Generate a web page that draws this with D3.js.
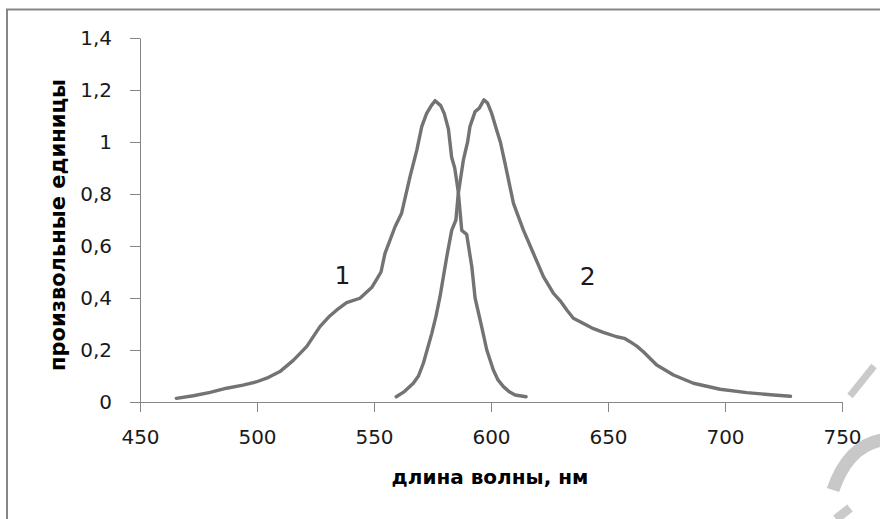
<!DOCTYPE html>
<html>
<head>
<meta charset="utf-8">
<script src="https://cdn.jsdelivr.net/npm/d3@7"></script>
<style>
  body { margin: 0; background: #fff; }
  svg { display: block; }
</style>
</head>
<body>
<div id="chart"></div>
<script>
// spectrum 1 (wavelength, nm / arbitrary units)
let wl1 = [465.5, 472.8, 480, 487, 494, 499.9, 505, 509.8, 515.5, 521.2, 526.9, 531, 534.1, 538.3,
  544, 549, 551, 553, 554.7, 559, 561.8, 565.4, 568.3, 570.4, 572.5, 574.5, 576.1, 578.5, 580,
  581.8, 583.2, 584.5, 586, 587.5, 589.6, 591.8, 593.2, 596, 598.2, 601, 603, 605.3, 608, 610.3, 615]
let val1 = [0.014, 0.024, 0.037, 0.053, 0.065, 0.078, 0.095, 0.117, 0.16, 0.213, 0.29, 0.33, 0.354, 0.382,
  0.399, 0.44, 0.47, 0.5, 0.572, 0.674, 0.726, 0.867, 0.969, 1.059, 1.11, 1.14, 1.159, 1.14, 1.11,
  1.05, 0.94, 0.9, 0.81, 0.66, 0.645, 0.52, 0.4, 0.29, 0.2, 0.123, 0.085, 0.059, 0.038, 0.027, 0.02]

// spectrum 2
let wl2 = [559.5, 563, 566.8, 569, 571.1, 574.7, 576.5, 578.2, 581.1, 583.2, 585, 586, 588.2, 590, 591,
  593.2, 595, 597, 598.5, 600.3, 602.4, 604, 606, 609.6, 613.8, 618.1, 622.4, 626.7, 629.5, 632.4,
  635.2, 638.1, 643.8, 648, 653.7, 657, 659.4, 662.3, 665.1, 670.8, 678, 686.5, 697.9, 709.3, 720.7, 728]
let val2 = [0.02, 0.04, 0.072, 0.1, 0.149, 0.264, 0.33, 0.405, 0.559, 0.66, 0.7, 0.8, 0.931, 1.0, 1.059,
  1.117, 1.13, 1.162, 1.15, 1.11, 1.046, 1.0, 0.918, 0.764, 0.662, 0.572, 0.482, 0.418, 0.39, 0.354,
  0.322, 0.309, 0.282, 0.268, 0.251, 0.245, 0.232, 0.215, 0.193, 0.142, 0.104, 0.072, 0.049, 0.036, 0.027, 0.022]

let xTicks = [450, 500, 550, 600, 650, 700, 750]
let yTicks = [0, 0.2, 0.4, 0.6, 0.8, 1, 1.2, 1.4]

// curve labels
let labelText = ["1", "2"]
let labelX = [536.5, 641.3]
let labelY = [0.454, 0.45]

let width = 880, height = 519

let svg = d3.select("#chart")
  .append("svg")
  .attr("width", width)
  .attr("height", height)

// frame (only top and left edges show)
svg.append("path")
  .attr("d", "M7,519 V9.5 H880")
  .attr("fill", "none")
  .attr("stroke", "#868686")
  .attr("stroke-width", 2)

let x = d3.scaleLinear().domain([450, 750]).range([140, 842])
let y = d3.scaleLinear().domain([0, 1.4]).range([402, 38])

let fmt = d => String(d).replace(".", ",")

let yAxis = svg.append("g")
  .attr("transform", "translate(140,0)")
  .call(d3.axisLeft(y).tickValues(yTicks).tickSize(10).tickSizeOuter(0).tickPadding(18).tickFormat(fmt))

let xAxis = svg.append("g")
  .attr("transform", "translate(0,402)")
  .call(d3.axisBottom(x).tickValues(xTicks).tickSize(10).tickSizeOuter(0).tickPadding(18).tickFormat(fmt))

for (let ax of [xAxis, yAxis]) {
  ax.selectAll("path, line").attr("stroke", "#868686").attr("stroke-width", 1)
  ax.selectAll("text")
    .attr("fill", "#1a1a1a")
    .style("font-family", "DejaVu Sans")
    .style("font-size", "20px")
}

// the two curves
let line = d3.line()
  .x(d => x(d[0]))
  .y(d => y(d[1]))

let series = [d3.zip(wl1, val1), d3.zip(wl2, val2)]

svg.selectAll("path.curve")
  .data(series)
  .enter()
  .append("path")
  .attr("class", "curve")
  .attr("d", line)
  .attr("fill", "none")
  .attr("stroke", "#737373")
  .attr("stroke-width", 3.4)
  .attr("stroke-linejoin", "round")
  .attr("stroke-linecap", "round")

svg.selectAll("text.lbl")
  .data(labelText)
  .enter()
  .append("text")
  .attr("class", "lbl")
  .attr("x", (d, i) => x(labelX[i]))
  .attr("y", (d, i) => y(labelY[i]))
  .attr("text-anchor", "middle")
  .style("font-family", "DejaVu Sans")
  .style("font-size", "25px")
  .attr("fill", "#1a1a1a")
  .text(d => d)

// axis titles
svg.append("text")
  .attr("x", 490)
  .attr("y", 484)
  .attr("text-anchor", "middle")
  .style("font-family", "DejaVu Sans")
  .style("font-weight", "bold")
  .style("font-size", "20px")
  .text("длина волны, нм")

svg.append("text")
  .attr("transform", "translate(65,225) rotate(-90)")
  .attr("text-anchor", "middle")
  .style("font-family", "DejaVu Sans")
  .style("font-weight", "bold")
  .style("font-size", "21px")
  .text("произвольные единицы")

// faint watermark strokes, bottom right
svg.append("path")
  .attr("d", "M850,396 L874,366")
  .attr("stroke", "#cacaca").attr("stroke-width", 7).attr("fill", "none")
svg.append("path")
  .attr("d", "M833,490 Q848,446 882,440")
  .attr("stroke", "#c8c8c8").attr("stroke-width", 13).attr("fill", "none")
svg.append("path")
  .attr("d", "M836,519 L850,508")
  .attr("stroke", "#cacaca").attr("stroke-width", 9).attr("fill", "none")
</script>
</body>
</html>
